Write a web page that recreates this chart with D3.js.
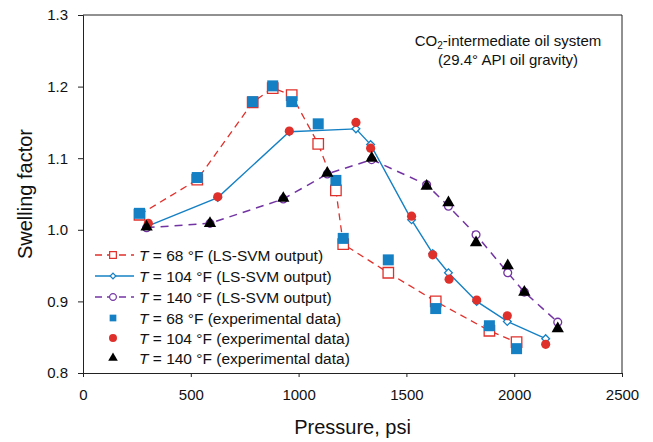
<!DOCTYPE html>
<html>
<head>
<meta charset="utf-8">
<script src="https://cdn.jsdelivr.net/npm/d3@7"></script>
<style>
  body { margin: 0; background: #fff; }
  svg { font-family: "Liberation Sans", Arial, sans-serif; }
</style>
</head>
<body>
<script>
// pressure (psi) and swelling factor
let svm68 = [[262,1.021],[530,1.070],[787,1.178],[880,1.198],[968,1.188],[1091,1.120],[1173,1.055],[1207,0.980],[1416,0.940],[1636,0.900],[1885,0.859],[2011,0.843]]
let svm104 = [[300,1.005],[625,1.045],[957,1.137],[1266,1.141],[1334,1.119],[1524,1.014],[1622,0.967],[1695,0.940],[1826,0.900],[1968,0.872],[2146,0.848]]
let svm140 = [[295,1.003],[589,1.009],[929,1.043],[1133,1.078],[1339,1.098],[1594,1.063],[1695,1.033],[1823,0.993],[1970,0.940],[2047,0.913],[2202,0.871]]

let exp68 = [[262,1.023],[530,1.073],[787,1.179],[880,1.201],[968,1.179],[1091,1.148],[1173,1.069],[1207,0.988],[1416,0.958],[1636,0.890],[1885,0.866],[2011,0.834]]
let exp104 = [[303,1.009],[625,1.046],[957,1.138],[1266,1.150],[1334,1.114],[1524,1.019],[1622,0.965],[1698,0.931],[1826,0.902],[1968,0.880],[2146,0.840]]
let exp140 = [[295,1.004],[589,1.009],[929,1.044],[1133,1.079],[1339,1.100],[1594,1.061],[1695,1.038],[1823,0.982],[1970,0.950],[2047,0.913],[2202,0.862]]

let xTicks = [0, 500, 1000, 1500, 2000, 2500]
let yTicks = [0.8, 0.9, 1.0, 1.1, 1.2, 1.3]
let legendLabels = [
  ['68', 'LS-SVM output'],
  ['104', 'LS-SVM output'],
  ['140', 'LS-SVM output'],
  ['68', 'experimental data'],
  ['104', 'experimental data'],
  ['140', 'experimental data']
]

let width = 653, height = 442
let margin = { top: 15, right: 31, bottom: 69, left: 83 }

let blue = '#1580c4', red = '#e0302b', purple = '#7334a3'

let svg = d3.select('body').append('svg')
  .attr('width', width).attr('height', height)

let x = d3.scaleLinear().domain([0, 2500]).range([margin.left, width - margin.right])
let y = d3.scaleLinear().domain([0.8, 1.3]).range([height - margin.bottom, margin.top])

// axes
svg.append('g')
  .attr('transform', `translate(0,${height - margin.bottom})`)
  .call(d3.axisBottom(x).tickValues(xTicks).tickSize(4).tickPadding(12).tickFormat(d3.format('d')))
  .call(g => g.selectAll('text').attr('font-size', 15).attr('fill', '#111').attr('font-family', null))
  .call(g => g.selectAll('line,path').attr('stroke', '#222'))

svg.append('g')
  .attr('transform', `translate(${margin.left},0)`)
  .call(d3.axisLeft(y).tickValues(yTicks).tickSize(5).tickPadding(10).tickFormat(d3.format('.1f')))
  .call(g => g.selectAll('text').attr('font-size', 15).attr('fill', '#111').attr('font-family', null))
  .call(g => g.selectAll('line,path').attr('stroke', '#222'))

// frame top/right
svg.append('path')
  .attr('d', `M${x(0)},${y(1.3)}H${x(2500)}V${y(0.8)}`)
  .attr('fill', 'none').attr('stroke', '#222')

svg.append('text')
  .attr('x', (margin.left + width - margin.right) / 2).attr('y', 434)
  .attr('text-anchor', 'middle').attr('font-size', 20).attr('fill', '#111')
  .text('Pressure, psi')

svg.append('text')
  .attr('transform', `translate(32,${(margin.top + height - margin.bottom) / 2}) rotate(-90)`)
  .attr('text-anchor', 'middle').attr('font-size', 20).attr('fill', '#111')
  .text('Swelling factor')

// annotation
let note = svg.append('text').attr('x', 508).attr('y', 46)
  .attr('text-anchor', 'middle').attr('font-size', 15).attr('fill', '#111')
note.append('tspan').text('CO')
note.append('tspan').attr('font-size', 10).attr('dy', 3).text('2')
note.append('tspan').attr('dy', -3).text('-intermediate oil system')
svg.append('text').attr('x', 508).attr('y', 65)
  .attr('text-anchor', 'middle').attr('font-size', 15).attr('fill', '#111')
  .text('(29.4° API oil gravity)')

// series
let line = d3.line().x(d => x(d[0])).y(d => y(d[1]))

let sq = d3.symbol(d3.symbolSquare, 121)
let openSq = d3.symbol(d3.symbolSquare, 110)
let dot = d3.symbol(d3.symbolCircle, 66)
let openDot = d3.symbol(d3.symbolCircle, 48)
let tri = d3.symbol(d3.symbolTriangle, 66)
let diam = d3.symbol(d3.symbolSquare, 30)

let series = [
  { data: svm68, color: red, dash: '7,5', lw: 1.3, shape: openSq, fill: '#fff', rot: 0 },
  { data: svm104, color: blue, dash: null, lw: 1.4, shape: diam, fill: '#fff', rot: 45 },
  { data: svm140, color: purple, dash: '8,6', lw: 1.5, shape: openDot, fill: '#fff', rot: 0 }
]

series.forEach(s => {
  svg.append('path').datum(s.data)
    .attr('d', line).attr('fill', 'none')
    .attr('stroke', s.color).attr('stroke-width', s.lw)
    .attr('stroke-dasharray', s.dash)
  svg.append('g').selectAll('path').data(s.data).join('path')
    .attr('transform', d => `translate(${x(d[0])},${y(d[1])}) rotate(${s.rot})`)
    .attr('d', s.shape).attr('fill', s.fill)
    .attr('stroke', s.color).attr('stroke-width', 1.3)
})

let points = [
  { data: exp68, color: blue, shape: sq },
  { data: exp104, color: red, shape: dot },
  { data: exp140, color: '#000', shape: tri }
]

points.forEach(s => {
  svg.append('g').selectAll('path').data(s.data).join('path')
    .attr('transform', d => `translate(${x(d[0])},${y(d[1])})`)
    .attr('d', s.shape).attr('fill', s.color)
})

// legend
let legendY = [255, 276, 297, 318, 338, 358]
let legendMarks = [
  { color: red, dash: '7,5', shape: d3.symbol(d3.symbolSquare, 45), fill: '#fff', rot: 0, stroke: true },
  { color: blue, dash: null, shape: d3.symbol(d3.symbolSquare, 16), fill: '#fff', rot: 45, stroke: true },
  { color: purple, dash: '7,5', shape: d3.symbol(d3.symbolCircle, 36), fill: '#fff', rot: 0, stroke: true },
  { color: blue, shape: d3.symbol(d3.symbolSquare, 45), fill: blue, rot: 0 },
  { color: red, shape: d3.symbol(d3.symbolCircle, 50), fill: red, rot: 0 },
  { color: '#000', shape: d3.symbol(d3.symbolTriangle, 40), fill: '#000', rot: 0 }
]

let legend = svg.append('g')
legendLabels.forEach((lab, i) => {
  let m = legendMarks[i], ly = legendY[i]
  if (m.stroke) {
    legend.append('line')
      .attr('x1', 95).attr('x2', 134).attr('y1', ly).attr('y2', ly)
      .attr('stroke', m.color).attr('stroke-width', 1.3)
      .attr('stroke-dasharray', m.dash)
  }
  legend.append('path')
    .attr('transform', `translate(113,${ly}) rotate(${m.rot})`)
    .attr('d', m.shape).attr('fill', m.fill)
    .attr('stroke', m.stroke ? m.color : null).attr('stroke-width', 1.2)
  let t = legend.append('text').attr('x', 139).attr('y', ly + 5.5)
    .attr('font-size', 15.5).attr('fill', '#111')
  t.append('tspan').attr('font-style', 'italic').text('T')
  t.append('tspan').text(` = ${lab[0]} °F (${lab[1]})`)
})
</script>
</body>
</html>
